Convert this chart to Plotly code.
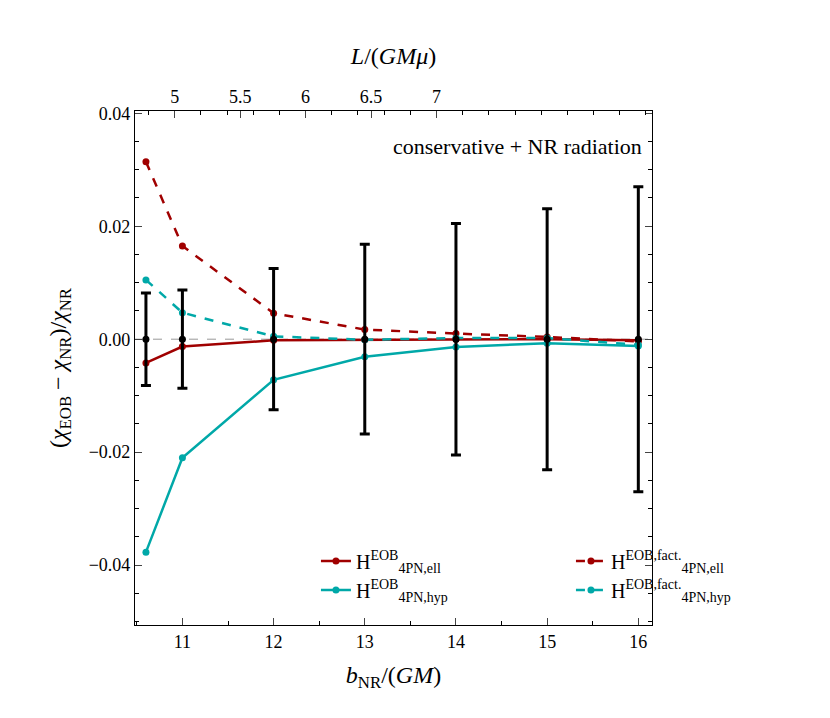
import plotly.graph_objects as go

b = [10.6, 11, 12, 13, 14, 15, 16]
ell = [-0.0042, -0.0013, -0.0002, -0.0001, 0.0, 0.0, -0.0002]
hyp = [-0.0377, -0.0210, -0.0072, -0.0031, -0.0014, -0.0007, -0.0012]
ell_fact = [0.0314, 0.0165, 0.0046, 0.0017, 0.0010, 0.0004, -0.0004]
hyp_fact = [0.0105, 0.0047, 0.0005, -0.0001, 0.0002, 0.0002, -0.0010]
nr = [0, 0, 0, 0, 0, 0, 0]
err = [0.0082, 0.0087, 0.0125, 0.0168, 0.0205, 0.0231, 0.0270]
L_ticks = [5, 5.5, 6, 6.5, 7]
L_range = [4.697, 8.646]

red = "#a00000"
cyan = "#00a8a8"
F = "Liberation Serif"

fig = go.Figure()
fig.add_trace(go.Scatter(x=[10.48, 16.15], y=[0, 0], mode="lines",
                         line=dict(color="#999", width=1, dash="dash"),
                         showlegend=False, hoverinfo="skip"))
fig.add_trace(go.Scatter(x=b, y=ell, mode="lines+markers", line=dict(color=red, width=2.5),
                         marker=dict(size=7), name="H<sup>EOB</sup><sub>4PN,ell</sub>"))
fig.add_trace(go.Scatter(x=b, y=ell_fact, mode="lines+markers", line=dict(color=red, width=2.5, dash="dash"),
                         marker=dict(size=7), name="H<sup>EOB,fact.</sup><sub>4PN,ell</sub>"))
fig.add_trace(go.Scatter(x=b, y=hyp, mode="lines+markers", line=dict(color=cyan, width=2.5),
                         marker=dict(size=7), name="H<sup>EOB</sup><sub>4PN,hyp</sub>"))
fig.add_trace(go.Scatter(x=b, y=hyp_fact, mode="lines+markers", line=dict(color=cyan, width=2.5, dash="dash"),
                         marker=dict(size=7), name="H<sup>EOB,fact.</sup><sub>4PN,hyp</sub>"))
fig.add_trace(go.Scatter(x=b, y=nr, mode="markers", marker=dict(color="black", size=7),
                         error_y=dict(type="data", array=err, color="black", thickness=3, width=5),
                         showlegend=False))
fig.add_trace(go.Scatter(x=L_range, y=[0, 0], xaxis="x2", mode="lines",
                         line=dict(width=0), showlegend=False, hoverinfo="skip"))

ax = dict(showline=True, linecolor="black", linewidth=1.2, ticks="inside",
          ticklen=7, tickwidth=1, showgrid=False, zeroline=False,
          minor=dict(ticks="inside", ticklen=4, tickcolor="black"),
          tickfont=dict(size=18, family=F))
fig.update_layout(
    width=830, height=718, plot_bgcolor="white", paper_bgcolor="white",
    margin=dict(l=127, r=12, t=103, b=101),
    font=dict(family=F, color="black"),
    xaxis=dict(range=[10.48, 16.15], tickvals=[11, 12, 13, 14, 15, 16], mirror=False,
               title=dict(text="<i>b</i><sub>NR</sub>/(<i>GM</i>)", font=dict(size=24)), **ax),
    xaxis2=dict(range=L_range, overlaying="x", side="top", tickvals=L_ticks, mirror=False,
                title=dict(text="<i>L</i>/(<i>GMμ</i>)", font=dict(size=24)), **ax),
    yaxis=dict(range=[-0.0506, 0.0404], tickvals=[-0.04, -0.02, 0, 0.02, 0.04],
               ticktext=["−0.04", "−0.02", "0.00", "0.02", "0.04"], mirror="ticks",
               title=dict(text="(<i>χ</i><sub>EOB</sub> − <i>χ</i><sub>NR</sub>)/<i>χ</i><sub>NR</sub>",
                          font=dict(size=24)), **ax),
    legend=dict(orientation="h", x=0.35, y=0.03, xanchor="left", yanchor="bottom",
                entrywidth=210, bgcolor="rgba(0,0,0,0)", font=dict(size=20, family=F),
                tracegroupgap=0),
    annotations=[dict(x=0.985, y=0.96, xref="paper", yref="paper", xanchor="right",
                      yanchor="top", showarrow=False, text="conservative + NR radiation",
                      font=dict(size=22, family=F))],
)
fig.write_html("out.html")
